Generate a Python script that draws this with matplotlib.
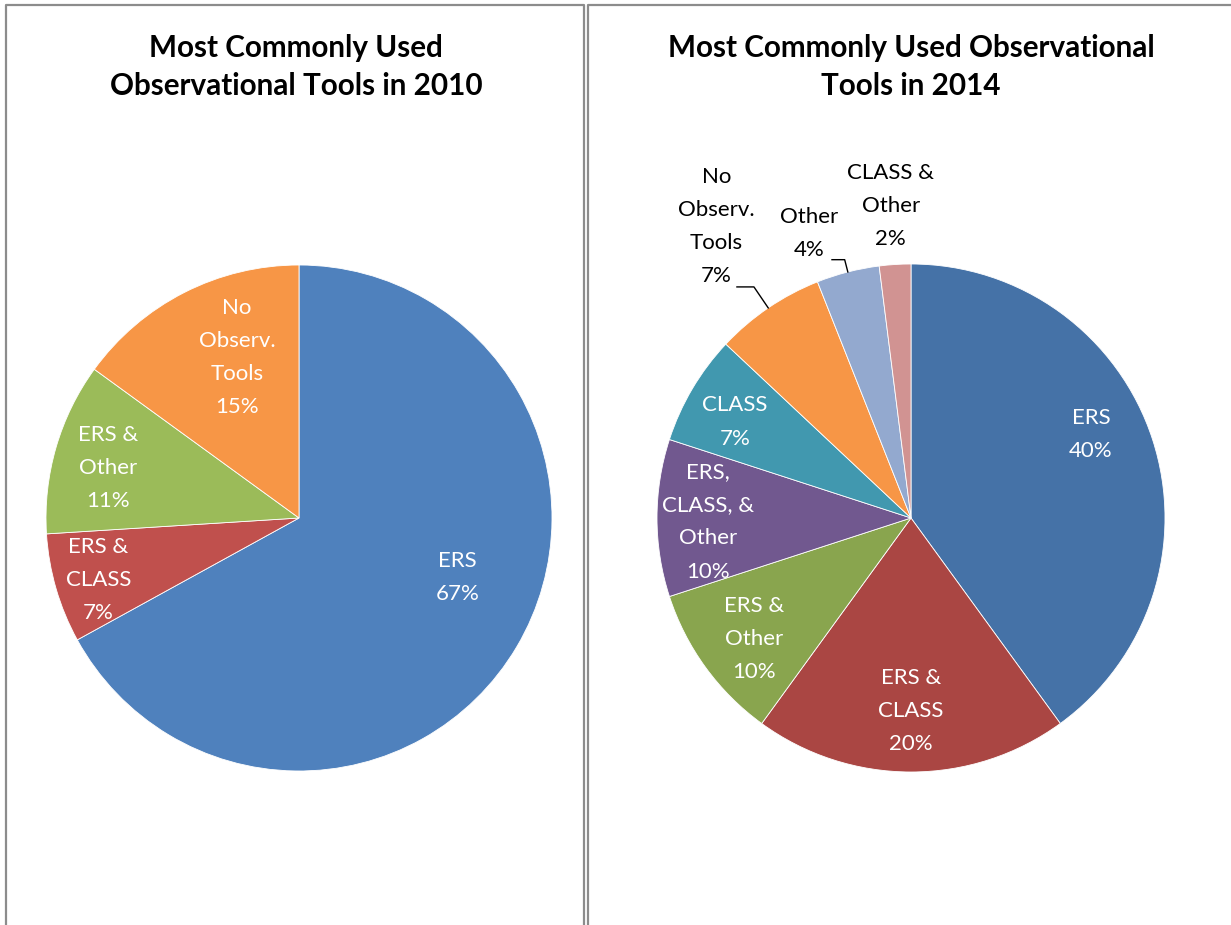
import matplotlib
matplotlib.use("Agg")
import matplotlib.pyplot as plt
from matplotlib.lines import Line2D
import numpy as np

plt.rcParams['font.family'] = ['Lato', 'DejaVu Sans']

W, H = 1231, 925

# data
labels_2010 = ["ERS", "ERS &\nCLASS", "ERS &\nOther", "No\nObserv.\nTools"]
values_2010 = [67, 7, 11, 15]
colors_2010 = ["#4F81BD", "#C0504D", "#9BBB59", "#F79646"]

labels_2014 = ["ERS", "ERS &\nCLASS", "ERS &\nOther", "ERS,\nCLASS, &\nOther",
               "CLASS", "No\nObserv.\nTools", "Other", "CLASS &\nOther"]
values_2014 = [40, 20, 10, 10, 7, 7, 4, 2]
colors_2014 = ["#4572A7", "#AA4643", "#89A54E", "#71588F",
               "#4198AF", "#F79646", "#93A9CF", "#D19392"]

# label placement (radius fraction, angle in degrees)
pos_2010 = [(0.67, -20.7), (0.83, 197.2), (0.78, 165.3), (0.68, 111.1)]
pos_2014 = [(0.78, 24.8), (0.76, -90), (0.78, 217.6), (0.80, 181.1),
            (0.79, 151.4), (1.38, 123.7), (1.19, 109.6), (1.23, 93.7)]
outside_2014 = [False, False, False, False, False, True, True, True]
# leader lines: (knee radius, horizontal length) or None
leader_2014 = [None, None, None, None, None, (1.1, 0.067), (1.05, 0.05), None]

fig = plt.figure(figsize=(W / 100, H / 100), dpi=100)


def px_axes(cx, cy, r):
    # axes centred on pixel (cx, cy) from top-left, radius r px -> data radius 1
    return fig.add_axes([(cx - r) / W, (H - cy - r) / H, 2 * r / W, 2 * r / H])


def draw_pie(cx, cy, r, values, labels, colors, pos, outside=None, leader=None):
    ax = px_axes(cx, cy, r)
    ax.pie(values, colors=colors, startangle=90, counterclock=False, radius=1.0,
           wedgeprops=dict(linewidth=0.6, edgecolor="white"))
    ax.set_xlim(-1, 1)
    ax.set_ylim(-1, 1)
    ax.set_aspect("equal")
    ax.axis("off")
    total = float(sum(values))
    start = 90.0
    for i, (lab, v) in enumerate(zip(labels, values)):
        span = 360.0 * v / total
        mid = np.deg2rad(start - span / 2)
        start -= span
        rf, ang = pos[i]
        a = np.deg2rad(ang)
        x, y = rf * np.cos(a), rf * np.sin(a)
        out = outside[i] if outside else False
        txt = lab + "\n" + "%d%%" % v
        ax.text(x, y, txt, ha="center", va="center", fontsize=16,
                color="black" if out else "white", linespacing=1.82, clip_on=False)
        if leader and leader[i]:
            kr, hl = leader[i]
            ex, ey = np.cos(mid), np.sin(mid)
            kx, ky = kr * np.cos(mid), kr * np.sin(mid)
            ax.plot([kx - hl, kx, ex], [ky, ky, ey],
                    color="black", linewidth=1.0, clip_on=False)
    return ax


draw_pie(299, 518, 253, values_2010, labels_2010, colors_2010, pos_2010)
draw_pie(911, 518, 254, values_2014, labels_2014, colors_2014, pos_2014,
         outside_2014, leader_2014)

# titles
fig.text(296 / W, 1 - 67 / H, "Most Commonly Used\nObservational Tools in 2010",
         ha="center", va="center", fontsize=21.3, fontweight="bold", linespacing=1.42)
fig.text(911 / W, 1 - 67 / H, "Most Commonly Used Observational\nTools in 2014",
         ha="center", va="center", fontsize=21.3, fontweight="bold", linespacing=1.42)


# panel borders
def px_line(xs, ys):
    fig.add_artist(Line2D([x / W for x in xs], [1 - y / H for y in ys],
                          transform=fig.transFigure, color="#8C8C8C", linewidth=1.6))


px_line([6, 6, 584, 584], [925, 5, 5, 925])
px_line([588, 588, 1231], [925, 5, 5])

fig.savefig("out.png", dpi=100)
